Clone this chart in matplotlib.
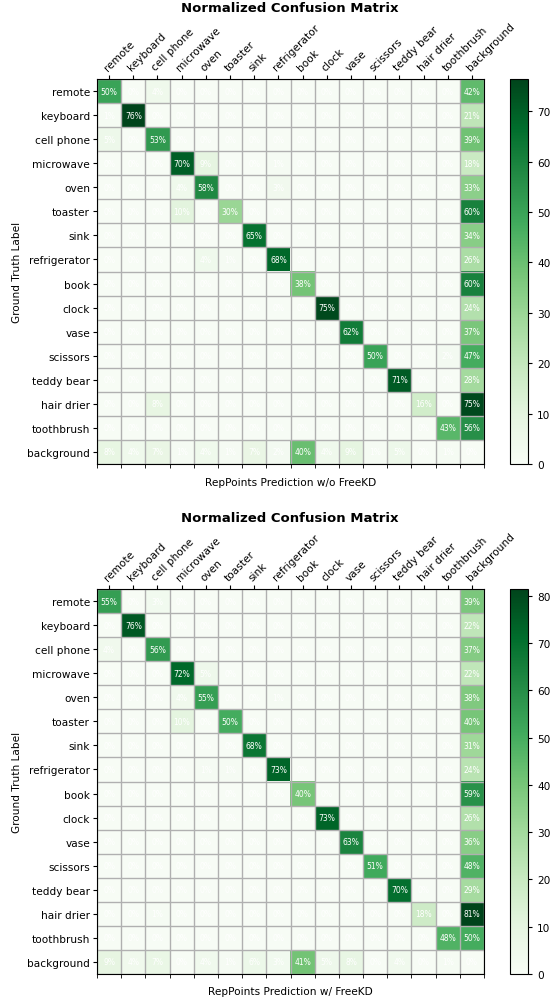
import numpy as np
import matplotlib
matplotlib.use("Agg")
import matplotlib.pyplot as plt

classes = ["remote", "keyboard", "cell phone", "microwave", "oven", "toaster",
           "sink", "refrigerator", "book", "clock", "vase", "scissors",
           "teddy bear", "hair drier", "toothbrush", "background"]

# row = ground truth, col = prediction (percent)
cm_without = [
    [50, 0, 4, 0, 0, 0, 0, 0, 0, 0, 0, 0, 0, 0, 0, 42],
    [1, 76.4, 0, 0, 0, 0, 0, 0, 0, 0, 0, 0, 0, 0, 0, 21],
    [5, 0, 53, 0, 0, 0, 0, 0, 0, 0, 0, 0, 0, 0, 0, 39],
    [0, 0, 0, 70, 9, 0, 0, 1, 0, 0, 0, 0, 0, 0, 0, 18],
    [0, 0, 0, 4, 58, 0, 0, 3, 0, 0, 0, 0, 0, 0, 0, 33],
    [0, 0, 0, 10, 0, 30, 0, 0, 0, 0, 0, 0, 0, 0, 0, 60],
    [0, 0, 0, 0, 0, 0, 65, 0, 0, 0, 0, 0, 0, 0, 0, 34],
    [0, 0, 0, 0, 4, 1, 0, 68, 0, 0, 0, 0, 0, 0, 0, 26],
    [0, 0, 0, 0, 0, 0, 0, 0, 38, 0, 0, 0, 0, 0, 0, 60],
    [0, 0, 0, 0, 0, 0, 0, 0, 0, 75, 0, 0, 0, 0, 0, 24],
    [0, 0, 0, 0, 0, 0, 0, 0, 0, 0, 62, 0, 0, 0, 0, 37],
    [0, 0, 0, 0, 0, 0, 0, 0, 0, 0, 0, 50, 0, 0, 2, 47],
    [0, 0, 0, 0, 0, 0, 0, 0, 0, 0, 0, 0, 71, 0, 0, 28],
    [0, 0, 8, 0, 0, 0, 0, 0, 0, 0, 0, 0, 0, 16, 0, 75],
    [0, 0, 0, 0, 0, 0, 0, 0, 0, 0, 0, 0, 0, 0, 43, 56],
    [8, 4, 7, 1, 4, 1, 7, 2, 40, 4, 9, 1, 5, 0, 1, 0],
]

cm_with = [
    [55, 0, 3, 0, 0, 0, 0, 0, 0, 0, 0, 0, 0, 0, 0, 39],
    [0, 76, 0, 0, 0, 0, 0, 0, 0, 0, 0, 0, 0, 0, 0, 22],
    [4, 0, 56, 0, 0, 0, 0, 0, 0, 0, 0, 0, 0, 0, 0, 37],
    [0, 0, 0, 72, 5, 0, 0, 0, 0, 0, 0, 0, 0, 0, 0, 22],
    [0, 0, 0, 4, 55, 0, 0, 1, 0, 0, 0, 0, 0, 0, 0, 38],
    [0, 0, 0, 10, 0, 50, 0, 0, 0, 0, 0, 0, 0, 0, 0, 40],
    [0, 0, 0, 0, 0, 0, 68, 0, 0, 0, 0, 0, 0, 0, 0, 31],
    [0, 0, 0, 0, 1, 1, 0, 73, 0, 0, 0, 0, 0, 0, 0, 24],
    [0, 0, 0, 0, 0, 0, 0, 0, 40, 0, 0, 0, 0, 0, 0, 59],
    [0, 0, 0, 0, 0, 0, 0, 0, 0, 73, 0, 0, 0, 0, 0, 26],
    [0, 0, 0, 0, 0, 0, 0, 0, 0, 0, 63, 0, 0, 0, 0, 36],
    [0, 0, 0, 0, 0, 0, 0, 0, 0, 0, 0, 51, 0, 0, 0, 48],
    [0, 0, 0, 0, 0, 0, 0, 0, 0, 0, 0, 0, 70, 0, 0, 29],
    [0, 0, 1, 0, 0, 0, 0, 0, 0, 0, 0, 0, 0, 18, 0, 81.4],
    [0, 0, 0, 0, 0, 0, 0, 0, 0, 0, 0, 0, 0, 0, 48, 50],
    [9, 4, 7, 0, 4, 1, 6, 3, 41, 5, 8, 0, 4, 0, 1, 0],
]

xlabels = ["RepPoints Prediction w/o FreeKD", "RepPoints Prediction w/ FreeKD"]

W, H = 551, 1004
fig = plt.figure(figsize=(W / 100, H / 100), dpi=100)

FS = 7.6


def draw(cm, xlabel, top_px):
    cm = np.array(cm, dtype=float)
    n = len(classes)
    left, right = 97, 484
    bottom_px = top_px + 385
    ax = fig.add_axes([left / W, 1 - bottom_px / H, (right - left) / W, 385 / H])
    cax = fig.add_axes([510 / W, 1 - bottom_px / H, 18 / W, 385 / H])

    im = ax.imshow(cm, cmap="Greens", vmin=0, vmax=cm.max(), aspect="auto")
    cb = fig.colorbar(im, cax=cax)
    cb.ax.tick_params(labelsize=FS, length=3)

    ax.set_xticks(np.arange(n))
    ax.set_yticks(np.arange(n))
    ax.set_xticklabels(classes, fontsize=FS, rotation=45, ha="left",
                       rotation_mode="anchor")
    ax.set_yticklabels(classes, fontsize=FS)
    ax.xaxis.set_ticks_position("top")
    ax.tick_params(axis="x", which="major", top=True, bottom=False,
                   labeltop=True, labelbottom=False, length=3, pad=2)
    ax.tick_params(axis="y", which="major", length=3, pad=2)

    ax.set_xticks(np.arange(n + 1) - 0.5, minor=True)
    ax.set_yticks(np.arange(n + 1) - 0.5, minor=True)
    ax.tick_params(axis="x", which="minor", bottom=True, top=False, length=3)
    ax.tick_params(axis="y", which="minor", left=False, right=False)
    ax.grid(which="minor", color="#b0b0b0", linewidth=1)
    ax.grid(which="major", visible=False)

    for i in range(n):
        for j in range(n):
            ax.text(j, i, "{:.0f}%".format(cm[i, j]), ha="center", va="center",
                    color="white", fontsize=5.5)

    ax.set_xlabel(xlabel, fontsize=FS, labelpad=6)
    ax.set_ylabel("Ground Truth Label", fontsize=FS, labelpad=4)
    fig.text(290 / W, 1 - (top_px - 71) / H, "Normalized Confusion Matrix",
             ha="center", va="center", fontsize=9.5, fontweight="bold")


draw(cm_without, xlabels[0], 80)
draw(cm_with, xlabels[1], 590)

fig.savefig("out.png", dpi=100)
